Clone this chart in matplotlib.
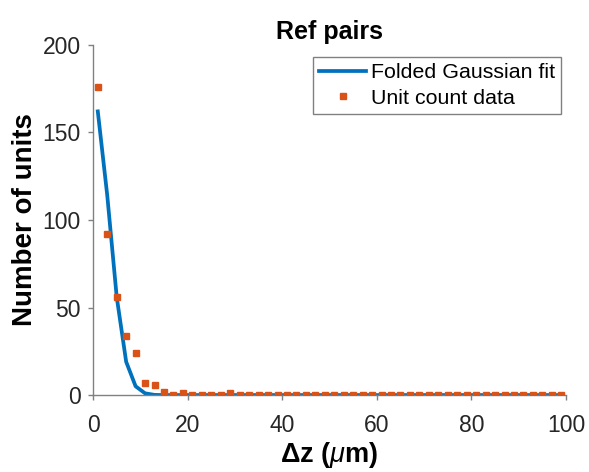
import matplotlib
matplotlib.use("Agg")
import matplotlib.pyplot as plt

plt.rcParams['font.family'] = ['Liberation Sans', 'DejaVu Sans']
plt.rcParams['mathtext.fontset'] = 'custom'
plt.rcParams['mathtext.it'] = 'Liberation Sans:italic'
plt.rcParams['mathtext.rm'] = 'Liberation Sans:bold'

dz = list(range(1, 100, 2))
fit_vals = [162, 114, 56, 19, 5, 1, 0.1] + [0] * 43
count_vals = [176, 92, 56, 34, 24, 7, 6, 2, 0, 1,
              0, 0, 0, 0, 1, 0, 0, 0, 0, 0,
              0, 0, 0, 0, 0, 0, 0, 0, 0, 0,
              0, 0, 0, 0, 0, 0, 0, 0, 0, 0,
              0, 0, 0, 0, 0, 0, 0, 0, 0, 0]

title = "Ref pairs"
xlabel = r"$\Delta$z ($\mu$m)"
ylabel = "Number of units"
legend_labels = ["Folded Gaussian fit", "Unit count data"]

fig = plt.figure(figsize=(5.89, 4.72), dpi=100)
ax = fig.add_axes([0.158, 0.163, 0.803, 0.742])

ax.plot(dz, fit_vals, color='#0072BD', linewidth=2.7, label=legend_labels[0], zorder=2)
ax.plot(dz, count_vals, linestyle='none', marker='s', markersize=4.5,
        color='#D95319', label=legend_labels[1], zorder=3)

ax.set_xlim(0, 100)
ax.set_ylim(0, 200)
ax.set_xticks([0, 20, 40, 60, 80, 100])
ax.set_yticks([0, 50, 100, 150, 200])
for s in ['top', 'right']:
    ax.spines[s].set_visible(False)
for s in ['left', 'bottom']:
    ax.spines[s].set_color('#808080')
    ax.spines[s].set_linewidth(1.0)
ax.tick_params(axis='both', colors='#808080', labelcolor='#262626', labelsize=16.5,
               direction='out', length=3.5, width=1.0)
ax.tick_params(axis='x', pad=10)
ax.tick_params(axis='y', pad=5.5)

ax.set_title(title, fontsize=18, fontweight='bold', pad=4)
ax.set_xlabel(xlabel, fontsize=19.5, fontweight='bold', labelpad=2)
ax.set_ylabel(ylabel, fontsize=20, fontweight='bold', labelpad=3)

leg = ax.legend(loc='upper left', bbox_to_anchor=(313 / 589, 1 - 57 / 472),
                bbox_transform=fig.transFigure, fontsize=15.4, frameon=True,
                fancybox=False, edgecolor='#808080', framealpha=1,
                handlelength=2.2, handletextpad=0.2, borderpad=0.3,
                labelspacing=0.3, borderaxespad=0)
leg.get_frame().set_linewidth(1.0)

fig.savefig('out.png', dpi=100)
